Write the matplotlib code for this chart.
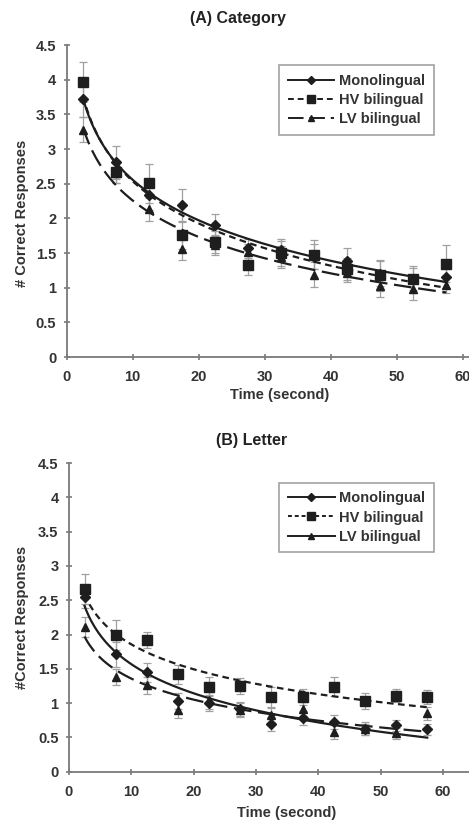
import numpy as np
import matplotlib
matplotlib.use("Agg")
import matplotlib.pyplot as plt
from matplotlib.lines import Line2D

plt.rcParams['font.family'] = ['Liberation Sans', 'DejaVu Sans']
plt.rcParams['font.weight'] = 'bold'

# time bins (seconds)
time = [2.5, 7.5, 12.5, 17.5, 22.5, 27.5, 32.5, 37.5, 42.5, 47.5, 52.5, 57.5]
groups = ["Monolingual", "HV bilingual", "LV bilingual"]

# (A) Category
cat_mono = [3.72, 2.81, 2.34, 2.19, 1.91, 1.57, 1.54, 1.45, 1.39, 1.20, 1.13, 1.15]
cat_hv = [3.97, 2.67, 2.51, 1.76, 1.66, 1.33, 1.50, 1.48, 1.27, 1.18, 1.12, 1.35]
cat_lv = [3.28, 2.65, 2.13, 1.56, 1.62, 1.51, 1.45, 1.19, 1.22, 1.02, 0.98, 1.04]
cat_mono_err = [0.25, 0.24, 0.22, 0.24, 0.16, 0.14, 0.16, 0.18, 0.18, 0.18, 0.16, 0.16]
cat_hv_err = [0.29, 0.16, 0.28, 0.20, 0.16, 0.14, 0.18, 0.21, 0.16, 0.22, 0.20, 0.27]
cat_lv_err = [0.18, 0.14, 0.16, 0.16, 0.14, 0.12, 0.16, 0.18, 0.14, 0.15, 0.15, 0.12]

# (B) Letter
let_mono = [2.55, 1.71, 1.45, 1.03, 1.00, 0.91, 0.70, 0.78, 0.73, 0.63, 0.68, 0.62]
let_hv = [2.66, 1.99, 1.92, 1.42, 1.24, 1.25, 1.09, 1.09, 1.24, 1.03, 1.11, 1.09]
let_lv = [2.11, 1.38, 1.26, 0.90, 1.04, 0.90, 0.83, 0.91, 0.58, 0.62, 0.56, 0.85]
let_mono_err = [0.16, 0.18, 0.14, 0.12, 0.12, 0.10, 0.10, 0.10, 0.10, 0.10, 0.08, 0.08]
let_hv_err = [0.22, 0.22, 0.12, 0.14, 0.14, 0.12, 0.14, 0.12, 0.14, 0.12, 0.10, 0.10]
let_lv_err = [0.14, 0.12, 0.12, 0.12, 0.12, 0.10, 0.10, 0.10, 0.10, 0.08, 0.08, 0.10]

ink = '#1e1e1e'
grey = '#a0a0a0'
markers = ['D', 's', '^']
msizes = [5, 7, 6]
trend_styles = ['-', (0, (3, 2)), (0, (8, 3))]
legend_styles_a = ['-', (0, (3, 2)), (0, (8, 3))]
legend_styles_b = ['-', (0, (2, 1.5)), '-']


def panel(ax, series, errs, legend_styles, xmax):
    t = np.array(time)
    tt = np.linspace(t[0], t[-1], 200)
    for y, e, m, ms, ls in zip(series, errs, markers, msizes, trend_styles):
        ax.errorbar(t, y, yerr=e, fmt='none', ecolor=grey, elinewidth=0.9,
                    capsize=3, capthick=0.9, zorder=2)
        ax.plot(t, y, linestyle='none', marker=m, ms=ms, color=ink, zorder=3)
        # log trend line fitted to the points (like Excel's trendline)
        b, a = np.polyfit(np.log(t), y, 1)
        ax.plot(tt, a + b * np.log(tt), linestyle=ls, color=ink, lw=1.6, zorder=4)
    ax.set_xlim(0, xmax)
    ax.set_ylim(0, 4.5)
    ax.set_xticks([0, 10, 20, 30, 40, 50, 60])
    ax.set_yticks(np.arange(0, 4.51, 0.5))
    ax.set_yticklabels(['0', '0.5', '1', '1.5', '2', '2.5', '3', '3.5', '4', '4.5'])
    for s in ['top', 'right']:
        ax.spines[s].set_visible(False)
    for s in ['left', 'bottom']:
        ax.spines[s].set_color('#7a7a7a')
        ax.spines[s].set_linewidth(1.3)
    ax.tick_params(colors='#7a7a7a', labelcolor='#333333', labelsize=10.5,
                   length=5, width=1.2, direction='inout')
    ax.tick_params(axis='x', pad=7)
    ax.tick_params(axis='y', pad=5)
    handles = [Line2D([], [], color=ink, lw=1.4, linestyle=ls, marker=m, ms=ms - 1)
               for m, ms, ls in zip(markers, msizes, legend_styles)]
    leg = ax.legend(handles, groups, loc='upper right', bbox_to_anchor=(0.93, 0.96),
                    fancybox=False, edgecolor='#8a8a8a', fontsize=10.5,
                    handlelength=3.2, handletextpad=0.3, borderpad=0.6,
                    labelspacing=0.35)
    leg.get_frame().set_linewidth(1.2)
    for txt in leg.get_texts():
        txt.set_color('#333333')


fig = plt.figure(figsize=(4.69, 8.21), dpi=100)

ax1 = fig.add_axes([0.142, 0.565, 0.858, 0.380])
panel(ax1, [cat_mono, cat_hv, cat_lv], [cat_mono_err, cat_hv_err, cat_lv_err],
      legend_styles_a, 60.95)
ax2 = fig.add_axes([0.147, 0.060, 0.853, 0.376])
panel(ax2, [let_mono, let_hv, let_lv], [let_mono_err, let_hv_err, let_lv_err],
      legend_styles_b, 64.2)

fig.text(0.508, 0.977, "(A) Category", ha='center', va='center', fontsize=11.5, color='#222222')
fig.text(0.537, 0.464, "(B) Letter", ha='center', va='center', fontsize=11.5, color='#222222')
fig.text(0.597, 0.519, "Time (second)", ha='center', va='center', fontsize=10.5, color='#333333')
fig.text(0.612, 0.010, "Time (second)", ha='center', va='center', fontsize=10.5, color='#333333')
fig.text(0.047, 0.740, "# Correct Responses", rotation=90, ha='center', va='center',
         fontsize=10.5, color='#333333')
fig.text(0.047, 0.248, "#Correct Responses", rotation=90, ha='center', va='center',
         fontsize=10.5, color='#333333')

fig.savefig("out.png", dpi=100)
